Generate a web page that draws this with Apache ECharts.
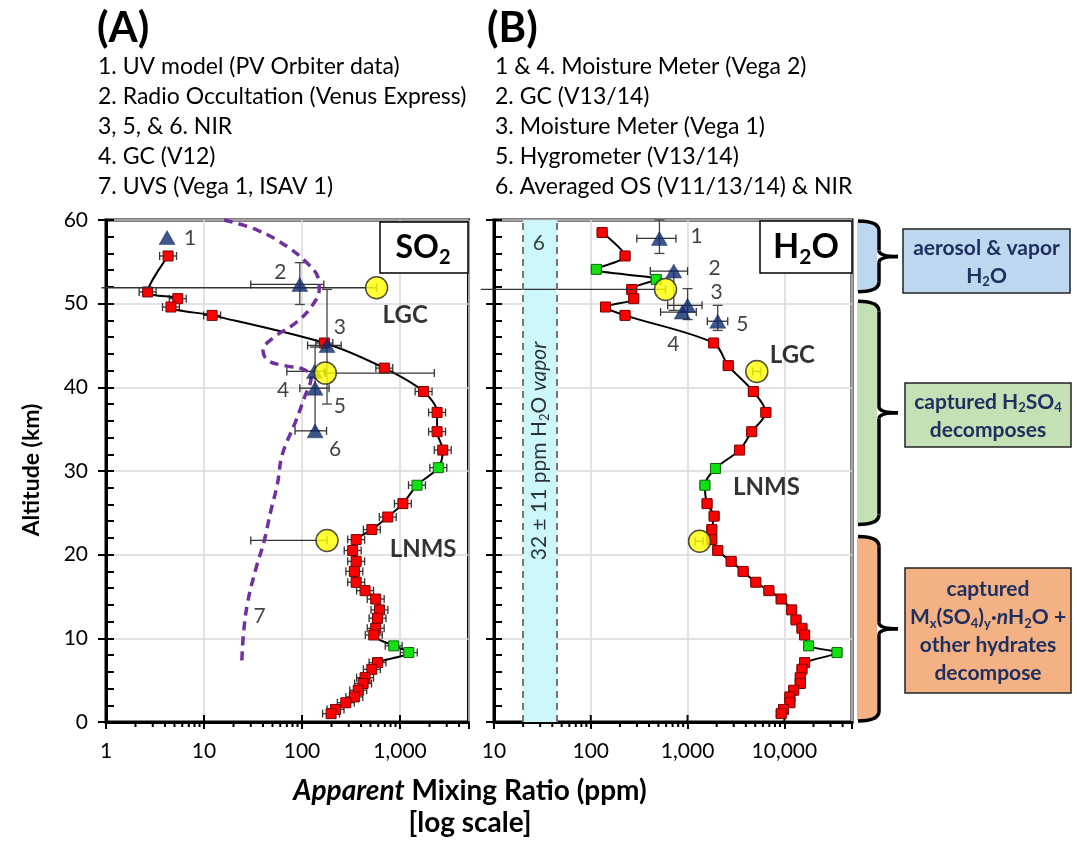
<!DOCTYPE html>
<html><head><meta charset="utf-8">
<script src="https://cdn.jsdelivr.net/npm/echarts@6/dist/echarts.min.js"></script>
<style>html,body{margin:0;padding:0;background:#fff}#c{width:1077px;height:846px}</style>
</head><body><div id="c"></div>
<script>
// ---------------- DATA ----------------
// Panel A : SO2 (LNMS profile)
const so2Alt = [55.7, 51.4, 50.6, 49.6, 48.6, 45.3, 42.3, 39.5, 37.0, 34.7, 32.5, 30.4, 28.3, 26.1, 24.5, 23.0, 21.8, 20.5, 19.2, 18.0, 16.7, 15.7, 14.7, 13.4, 12.4, 11.2, 10.4, 9.1, 8.3, 7.1, 6.3, 5.3, 4.6, 3.8, 3.0, 2.3, 1.5, 1.0];
const so2Val = [4.3, 2.66, 5.4, 4.6, 12.1, 169, 692, 1740, 2390, 2390, 2730, 2460, 1490, 1070, 750, 516, 357, 329, 357, 342, 357, 440, 565, 617, 590, 565, 540, 862, 1230, 590, 516, 440, 420, 375, 342, 280, 220, 198];
const so2Green = [11, 12, 27, 28];
const so2RelErr = 0.22;
// UVS (7) dashed profile
const uvsAlt = [60, 58.8, 56.8, 54.8, 53.2, 51.8, 49.6, 47.6, 46.0, 44.4, 43.2, 42.6, 42.1, 41.2, 38.8, 35.6, 32.0, 28.4, 25.2, 21.6, 18.4, 14.4, 10.8, 7.2];
const uvsVal = [16, 35, 71, 114, 145, 150, 124, 84, 52, 40, 45, 66, 106, 124, 106, 84, 63, 56, 48, 41, 34, 28, 25.4, 24.3];
// other SO2 measurements (triangles 1-6)
const so2TriVal = [4.2, 95, 180, 134, 136, 136];
const so2TriAlt = [57.9, 52.3, 45.0, 41.9, 39.9, 34.8];
const so2TriXErr = [null, [30, 167], [114, 251], [70, 169], [95, 189], [85, 178]];
const so2TriYErr = [null, [49.9, 54.9], [38.0, 51.7], null, [34.8, 44.8], null];
// LGC / LNMS yellow circles
const so2CircVal = [577, 173, 180];
const so2CircAlt = [51.9, 41.7, 21.7];
const so2CircXErr = [[0.9, 577], [173, 2240], [30, 180]];

// Panel B : H2O
const h2oAlt = [58.5, 55.7, 54.1, 52.9, 51.7, 50.6, 49.6, 48.6, 45.3, 42.6, 39.5, 37.0, 34.7, 32.5, 30.3, 28.3, 26.1, 24.6, 23.0, 21.8, 20.5, 19.2, 18.0, 16.7, 15.7, 14.7, 13.4, 12.2, 11.2, 10.4, 9.1, 8.3, 7.1, 6.3, 5.3, 4.6, 3.8, 3.0, 2.3, 1.5, 1.0];
const h2oVal = [131, 226, 114, 474, 265, 278, 142, 226, 1860, 2630, 4780, 6440, 4600, 3440, 1940, 1510, 1590, 1880, 1780, 1780, 2050, 2820, 3750, 5070, 6920, 9270, 11900, 13200, 15200, 16200, 17800, 35000, 16200, 15200, 14600, 14600, 12500, 11400, 11400, 9800, 9270];
const h2oGreen = [2, 3, 14, 15, 30, 31];
const h2oRelErr = 0.12;
const h2oTriVal = [512, 720, 1000, 880, 2050];
const h2oTriAlt = [57.8, 53.9, 49.8, 49.0, 47.9];
const h2oTriXErr = [[299, 758], [412, 1000], [624, 1410], [526, 1230], [1600, 2600]];
const h2oTriYErr = [[56.0, 60.0], [49.2, 53.9], [48.1, 51.8], null, [46.8, 49.8]];
const h2oCircVal = [592, 5190, 1330];
const h2oCircAlt = [51.7, 41.9, 21.6];
const h2oCircXErr = [[7.3, 592], [4700, 5700], [1200, 1450]];
const vaporBand = [20, 45];   // 32 ± 11 ppm band edges

// Ticks / labels
const xTicksA = [1, 10, 100, 1000];
const xTicksB = [10, 100, 1000, 10000];
const xRangeA = [1, 5000];
const xRangeB = [10, 50000];
const yRange = [0, 60];

const legendA = ['1. UV model (PV Orbiter data)', '2. Radio Occultation (Venus Express)', '3, 5, & 6. NIR', '4. GC (V12)', '7. UVS (Vega 1, ISAV 1)'];
const legendB = ['1 & 4. Moisture Meter (Vega 2)', '2. GC (V13/14)', '3. Moisture Meter (Vega 1)', '5. Hygrometer (V13/14)', '6. Averaged OS (V11/13/14) & NIR'];

// in-plot labels [text, x value, altitude, bold]
const labelsA = [['1', 7.2, 57.8, 0], ['2', 60, 53.8, 0], ['3', 244, 47.2, 0], ['4', 64, 39.6, 0], ['5', 244, 37.8, 0], ['6', 217, 32.6, 0], ['7', 37, 12.7, 0], ['LGC', 1130, 48.6, 1], ['LNMS', 1720, 20.6, 1]];
const labelsB = [['1', 1240, 58.1, 0], ['2', 1900, 54.2, 0], ['3', 2000, 51.4, 0], ['4', 714, 45.2, 0], ['5', 3690, 47.6, 0], ['6', 29, 57.2, 0], ['LGC', 12100, 43.8, 1], ['LNMS', 6530, 28.0, 1]];

// altitude ranges of the right-hand brackets
const bandRanges = [[51.3, 60], [23.5, 50.4], [0, 22.3]];

// ---------------- CHART ----------------
const F = 'Lato, "Open Sans", "DejaVu Sans", sans-serif';
const chart = echarts.init(document.getElementById('c'));

function xAxisCfg(grid, range, ticks) {
  return {
    type: 'log', logBase: 10, gridIndex: grid, min: range[0], max: range[1],
    axisLine: {show: true, onZero: false, lineStyle: {color: '#000', width: 3}},
    axisTick: {show: true, length: 7, lineStyle: {color: '#000', width: 2}},
    axisLabel: {fontFamily: F, fontSize: 21, color: '#000', margin: 19,
      formatter: v => {
        const m = ticks.find(t => Math.abs(Math.log10(t) - Math.log10(v)) < 1e-6);
        return m ? m.toLocaleString('en-US') : '';
      }},
    splitLine: {show: true, lineStyle: {color: '#d9d9d9', width: 1.5}}
  };
}
function yAxisMain(grid, showLabel) {
  return {
    type: 'value', gridIndex: grid, min: yRange[0], max: yRange[1], interval: 10, position: 'left',
    axisLine: {show: true, onZero: false, lineStyle: {color: '#000', width: 3}},
    axisTick: {show: true, inside: false, length: 8, lineStyle: {color: '#000', width: 2}},
    axisLabel: {show: showLabel, fontFamily: F, fontSize: 21, color: '#000', margin: 18},
    splitLine: {show: true, lineStyle: {color: '#d9d9d9', width: 1.5}}
  };
}
function yAxisMinor(grid) {
  return {
    type: 'value', gridIndex: grid, min: yRange[0], max: yRange[1], interval: 2, position: 'left',
    axisLine: {show: false, onZero: false},
    axisTick: {show: true, inside: true, length: 8, lineStyle: {color: '#000', width: 2}},
    axisLabel: {show: false}, splitLine: {show: false}
  };
}

function hErrItem(params, api) {
  const y = api.value(2);
  const lo = api.coord([api.value(0), y]);
  const hi = api.coord([api.value(1), y]);
  const capLo = api.value(3), cap = 4;
  const st = {stroke: '#333', lineWidth: 1.3};
  const ch = [{type: 'line', shape: {x1: lo[0], y1: lo[1], x2: hi[0], y2: hi[1]}, style: st},
              {type: 'line', shape: {x1: hi[0], y1: hi[1] - cap, x2: hi[0], y2: hi[1] + cap}, style: st}];
  if (capLo) ch.push({type: 'line', shape: {x1: lo[0], y1: lo[1] - cap, x2: lo[0], y2: lo[1] + cap}, style: st});
  return {type: 'group', children: ch};
}
function vErrItem(params, api) {
  const x = api.value(0);
  const lo = api.coord([x, api.value(1)]);
  const hi = api.coord([x, api.value(2)]);
  const cap = 5, st = {stroke: '#444', lineWidth: 1.3};
  return {type: 'group', children: [
    {type: 'line', shape: {x1: lo[0], y1: lo[1], x2: hi[0], y2: hi[1]}, style: st},
    {type: 'line', shape: {x1: lo[0] - cap, y1: lo[1], x2: lo[0] + cap, y2: lo[1]}, style: st},
    {type: 'line', shape: {x1: hi[0] - cap, y1: hi[1], x2: hi[0] + cap, y2: hi[1]}, style: st}]};
}
function tickItem(params, api) {
  const p = api.coord([api.value(0), yRange[0]]);
  const major = api.value(1);
  return {type: 'line', shape: {x1: p[0], y1: p[1] - (major ? 7 : 0), x2: p[0], y2: p[1] + (major ? 0 : 5)},
          style: {stroke: '#000', lineWidth: 2}};
}
function tickData(range) {
  const out = [];
  for (let d = range[0]; d < range[1]; d *= 10) {
    out.push([d, 1]);
    for (let k = 2; k <= 9; k++) if (d * k < range[1]) out.push([d * k, 0]);
  }
  return out;
}
function profileData(vals, alts, greens) {
  return vals.map((v, i) => {
    const g = greens.includes(i);
    return {value: [v, alts[i]], itemStyle: {color: g ? '#11e011' : '#ff0000', borderColor: g ? '#0a6a0a' : '#7a0000', borderWidth: 1}};
  });
}
function profileErr(vals, alts, rel) {
  return vals.map((v, i) => [v / (1 + rel), v * (1 + rel), alts[i], 1]);
}
function xErrData(alts, errs, capLoFor) {
  const out = [];
  errs.forEach((e, i) => { if (e) out.push([e[0], e[1], alts[i], capLoFor ? capLoFor(e) : 1]); });
  return out;
}
function yErrData(vals, errs) {
  const out = [];
  errs.forEach((e, i) => { if (e) out.push([vals[i], e[0], e[1]]); });
  return out;
}
function labelData(list) {
  return list.map(l => ({value: [l[1], l[2]], label: {formatter: l[0], fontFamily: F,
    fontSize: l[3] ? 24 : 21, fontWeight: l[3] ? 'bold' : 'normal', color: l[3] ? '#000' : '#111'}}));
}

function panelSeries(xi, yi, d) {
  return [
    {type: 'custom', xAxisIndex: xi, yAxisIndex: yi, renderItem: tickItem, data: d.ticks, clip: false, silent: true, z: 1},
    {type: 'custom', xAxisIndex: xi, yAxisIndex: yi, renderItem: hErrItem, data: d.profErr, encode: {x: [0, 1], y: 2}, clip: false, z: 2},
    {type: 'line', xAxisIndex: xi, yAxisIndex: yi, data: d.profile, smooth: 0.3, symbol: 'rect', symbolSize: 10,
      lineStyle: {color: '#000', width: 2}, z: 3, markArea: d.markArea, markLine: d.markLine},
    {type: 'custom', xAxisIndex: xi, yAxisIndex: yi, renderItem: hErrItem, data: d.otherXErr, encode: {x: [0, 1], y: 2}, clip: false, z: 4},
    {type: 'custom', xAxisIndex: xi, yAxisIndex: yi, renderItem: vErrItem, data: d.otherYErr, encode: {x: 0, y: [1, 2]}, clip: false, z: 4},
    {type: 'scatter', xAxisIndex: xi, yAxisIndex: yi, data: d.tri, symbol: 'triangle', symbolSize: [16, 14],
      itemStyle: {color: '#0e2a6b', borderColor: '#0a1f4f', borderWidth: 0.5}, z: 6},
    {type: 'scatter', xAxisIndex: xi, yAxisIndex: yi, data: d.circ, symbol: 'circle', symbolSize: 22,
      itemStyle: {color: '#ffff00', borderColor: '#222', borderWidth: 1.5}, z: 7},
    {type: 'scatter', xAxisIndex: xi, yAxisIndex: yi, data: d.labels, symbolSize: 0.1,
      itemStyle: {color: 'transparent'}, label: {show: true, position: 'inside'}, z: 8, silent: true}
  ];
}

const seriesA = panelSeries(0, 0, {
  ticks: tickData(xRangeA),
  profErr: profileErr(so2Val, so2Alt, so2RelErr),
  profile: profileData(so2Val, so2Alt, so2Green),
  otherXErr: xErrData(so2TriAlt, so2TriXErr).concat(xErrData(so2CircAlt, so2CircXErr, e => e[0] > xRangeA[0] ? 1 : 0)),
  otherYErr: yErrData(so2TriVal, so2TriYErr),
  tri: so2TriVal.map((v, i) => [v, so2TriAlt[i]]),
  circ: so2CircVal.map((v, i) => [v, so2CircAlt[i]]),
  labels: labelData(labelsA)
});
seriesA.push({type: 'line', xAxisIndex: 0, yAxisIndex: 0, data: uvsVal.map((v, i) => [v, uvsAlt[i]]),
  smooth: 0.4, symbol: 'none', lineStyle: {color: '#7030a0', width: 3.5, type: [9, 6]}, z: 5});

const bandLabel = {value: [29.2, 32.4], label: {rotate: 90, formatter: '32 ± 11 ppm H{s|2}O {i|vapor}',
  fontFamily: F, fontSize: 21, color: '#000', lineHeight: 26,
  rich: {s: {fontFamily: F, fontSize: 13, color: '#000', verticalAlign: 'bottom', height: 14},
         i: {fontFamily: F, fontSize: 21, fontStyle: 'italic', color: '#000', lineHeight: 26}}}};

const seriesB = panelSeries(1, 2, {
  ticks: tickData(xRangeB),
  profErr: profileErr(h2oVal, h2oAlt, h2oRelErr),
  profile: profileData(h2oVal, h2oAlt, h2oGreen),
  otherXErr: xErrData(h2oTriAlt, h2oTriXErr).concat(xErrData(h2oCircAlt, h2oCircXErr, e => e[0] > xRangeB[0] ? 1 : 0)),
  otherYErr: yErrData(h2oTriVal, h2oTriYErr),
  tri: h2oTriVal.map((v, i) => [v, h2oTriAlt[i]]),
  circ: h2oCircVal.map((v, i) => [v, h2oCircAlt[i]]),
  labels: labelData(labelsB).concat([bandLabel]),
  markArea: {silent: true, itemStyle: {color: '#ccf8fc'}, data: [[{xAxis: vaporBand[0]}, {xAxis: vaporBand[1]}]]},
  markLine: {silent: true, symbol: 'none', label: {show: false},
    lineStyle: {color: '#777', width: 2, type: [7, 5]}, data: [{xAxis: vaporBand[0]}, {xAxis: vaporBand[1]}]}
});

chart.setOption({
  animation: false,
  grid: [
    {left: 106, top: 220, width: 362.5, height: 502, show: true, borderColor: '#000', borderWidth: 3, backgroundColor: 'transparent'},
    {left: 494, top: 220, width: 358, height: 502, show: true, borderColor: '#000', borderWidth: 3, backgroundColor: 'transparent'}
  ],
  xAxis: [xAxisCfg(0, xRangeA, xTicksA), xAxisCfg(1, xRangeB, xTicksB)],
  yAxis: [yAxisMain(0, true), yAxisMinor(0), yAxisMain(1, false), yAxisMinor(1)],
  series: seriesA.concat(seriesB)
});

// ---------------- ANNOTATIONS ----------------
const NAVY = '#1f3060';
function sub(size, L, F0, color, weight) {
  return {fontFamily: F, fontSize: size, fontWeight: weight || 'bold', fill: color, verticalAlign: 'bottom', height: L - 0.6 * F0};
}
const g = [];
g.push({type: 'text', x: 97, y: 28, style: {text: '(A)', fontFamily: F, fontSize: 42, fontWeight: 'bold', fill: '#000', verticalAlign: 'middle'}});
g.push({type: 'text', x: 487, y: 28, style: {text: '(B)', fontFamily: F, fontSize: 42, fontWeight: 'bold', fill: '#000', verticalAlign: 'middle'}});
legendA.forEach((t, i) => g.push({type: 'text', x: 98, y: 67 + i * 30, style: {text: t, fontFamily: F, fontSize: 23, fill: '#000', verticalAlign: 'middle'}}));
legendB.forEach((t, i) => g.push({type: 'text', x: 495, y: 67 + i * 30, style: {text: t, fontFamily: F, fontSize: 23, fill: '#000', verticalAlign: 'middle'}}));
g.push({type: 'text', x: 32, y: 470, rotation: Math.PI / 2, style: {text: 'Altitude (km)', fontFamily: F, fontSize: 23, fontWeight: 'bold', fill: '#000', align: 'center', verticalAlign: 'middle'}});
g.push({type: 'text', x: 470, y: 791, style: {text: '{i|Apparent} Mixing Ratio (ppm)', fontFamily: F, fontSize: 28, fontWeight: 'bold', fill: '#000', align: 'center', verticalAlign: 'middle',
  rich: {i: {fontFamily: F, fontSize: 28, fontWeight: 'bold', fontStyle: 'italic', fill: '#000'}}}});
g.push({type: 'text', x: 470, y: 823, style: {text: '[log scale]', fontFamily: F, fontSize: 28, fontWeight: 'bold', fill: '#000', align: 'center', verticalAlign: 'middle'}});

// species boxes
g.push({type: 'rect', shape: {x: 380, y: 222, width: 88, height: 51}, style: {fill: '#fff', stroke: '#000', lineWidth: 1.5}, z: 20});
g.push({type: 'text', x: 423, y: 248, z: 21, style: {text: 'SO{s|2}', fontFamily: F, fontSize: 32, fontWeight: 'bold', fill: '#000', align: 'center', verticalAlign: 'middle', lineHeight: 36,
  rich: {s: sub(20, 36, 32, '#000')}}});
g.push({type: 'rect', shape: {x: 760, y: 221, width: 92, height: 52}, style: {fill: '#fff', stroke: '#000', lineWidth: 1.5}, z: 20});
g.push({type: 'text', x: 806, y: 247, z: 21, style: {text: 'H{s|2}O', fontFamily: F, fontSize: 34, fontWeight: 'bold', fill: '#000', align: 'center', verticalAlign: 'middle', lineHeight: 38,
  rich: {s: sub(21, 38, 34, '#000')}}});

// brackets and colored bands
const bandColors = ['#bdd7ee', '#c5e0b4', '#f4b183'];
const braceStyle = {stroke: '#000', lineWidth: 3.5, fill: 'none'};
bandRanges.forEach((r, i) => {
  const yTop = chart.convertToPixel({yAxisIndex: 2}, r[1]) + 1;
  const yBot = chart.convertToPixel({yAxisIndex: 2}, r[0]) - 1;
  g.push({type: 'rect', shape: {x: 857, y: yTop + 1, width: 20, height: yBot - yTop - 2}, style: {fill: bandColors[i]}, z: 5});
  const x0 = 858, x1 = 879, x2 = 898, rr = 10, ym = (yTop + yBot) / 2;
  const parts = [
    {type: 'bezierCurve', shape: {x1: x0, y1: yTop, cpx1: x1, cpy1: yTop, x2: x1, y2: yTop + rr}},
    {type: 'line', shape: {x1: x1, y1: yTop + rr, x2: x1, y2: ym - 6}},
    {type: 'bezierCurve', shape: {x1: x1, y1: ym - 6, cpx1: x1, cpy1: ym, x2: x2, y2: ym}},
    {type: 'bezierCurve', shape: {x1: x2, y1: ym, cpx1: x1, cpy1: ym, x2: x1, y2: ym + 6}},
    {type: 'line', shape: {x1: x1, y1: ym + 6, x2: x1, y2: yBot - rr}},
    {type: 'bezierCurve', shape: {x1: x1, y1: yBot - rr, cpx1: x1, cpy1: yBot, x2: x0, y2: yBot}}
  ];
  parts.forEach(p => { p.style = braceStyle; p.z = 6; g.push(p); });
});

const boxFont = 21, boxL = 28;
const boxRich = {s: sub(13, boxL, boxFont, NAVY), i: {fontFamily: F, fontSize: boxFont, fontWeight: 'bold', fontStyle: 'italic', fill: NAVY}};
const boxes = [
  {x: 903, y: 229, w: 167, h: 64, c: bandColors[0], t: 'aerosol & vapor\nH{s|2}O'},
  {x: 905, y: 383, w: 166, h: 64, c: bandColors[1], t: 'captured H{s|2}SO{s|4}\ndecomposes'},
  {x: 905, y: 568, w: 166, h: 125, c: bandColors[2], t: 'captured\nM{s|x}(SO{s|4}){s|y}·{i|n}H{s|2}O +\nother hydrates\ndecompose'}
];
boxes.forEach(b => {
  g.push({type: 'rect', shape: {x: b.x, y: b.y, width: b.w, height: b.h}, style: {fill: b.c, stroke: '#222', lineWidth: 1.5}, z: 5});
  g.push({type: 'text', x: b.x + b.w / 2, y: b.y + b.h / 2 + 1, z: 6, style: {text: b.t, fontFamily: F, fontSize: boxFont, fontWeight: 'bold', fill: NAVY,
    align: 'center', verticalAlign: 'middle', lineHeight: boxL, rich: boxRich}});
});

chart.setOption({graphic: g});
</script>
</body></html>
